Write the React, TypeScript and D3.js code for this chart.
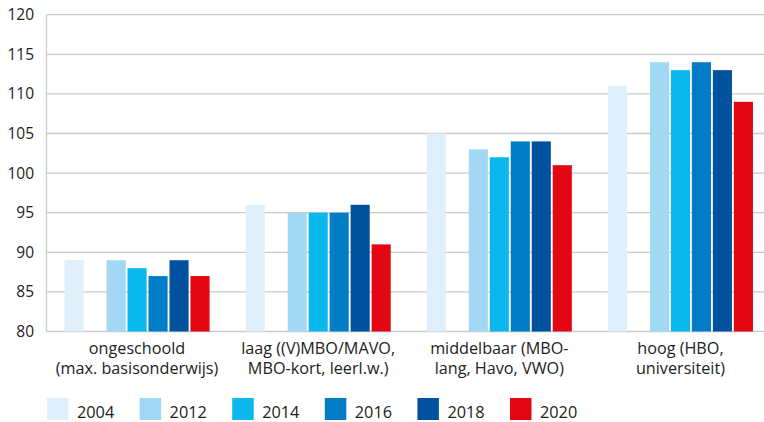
import React from "react";
import * as d3 from "d3";

const categories = [
  ["ongeschoold", "(max. basisonderwijs)"],
  ["laag ((V)MBO/MAVO,", "MBO-kort, leerl.w.)"],
  ["middelbaar (MBO-", "lang, Havo, VWO)"],
  ["hoog (HBO,", "universiteit)"],
];
const years = ["2004", "2012", "2014", "2016", "2018", "2020"];
const slots = ["2004", "gap", "2012", "2014", "2016", "2018", "2020"];
const colors = ["#dff0fc", "#a3d8f5", "#0bb8ee", "#007dc6", "#00519e", "#e30613"];
const v2004 = [89, 96, 105, 111];
const v2012 = [89, 95, 103, 114];
const v2014 = [88, 95, 102, 113];
const v2016 = [87, 95, 104, 114];
const v2018 = [89, 96, 104, 113];
const v2020 = [87, 91, 101, 109];
const series = [v2004, v2012, v2014, v2016, v2018, v2020];
const yTicks = [80, 85, 90, 95, 100, 105, 110, 115, 120];

export default function App() {
  const W = 764, H = 422;
  const left = 46.5, right = 771;
  const y = d3.scaleLinear().domain([80, 120]).range([331.5, 14.7]);
  const x0 = d3.scaleBand<number>().domain(d3.range(categories.length)).range([left, right]).padding(0);
  const gw = x0.bandwidth();
  const x1 = d3.scaleBand<string>().domain(slots).range([0, gw]).paddingInner(0.09).paddingOuter(0.86);
  const font = "'Open Sans', sans-serif";
  return (
    <svg width={W} height={H} style={{ position: "absolute", left: 0, top: 0 }} fontFamily={font}>
      <rect width={W} height={H} fill="#fff" />
      {yTicks.map((t) => (
        <g key={t}>
          <line x1={left} x2={W} y1={y(t)} y2={y(t)} stroke="#cbcbcb" strokeWidth={1.3} />
          <text x={34} y={y(t)} dy="0.35em" textAnchor="end" fontSize={15.5} fill="#222">{t}</text>
        </g>
      ))}
      <line x1={left} x2={left} y1={y(120)} y2={y(80)} stroke="#cbcbcb" strokeWidth={1.3} />
      {categories.map((c, i) => (
        <g key={i} transform={`translate(${x0(i)},0)`}>
          {years.map((yr, j) => {
            const v = series[j][i];
            return (
              <rect key={yr} x={x1(yr)} y={y(v)} width={x1.bandwidth()} height={y(80) - y(v)} fill={colors[j]} />
            );
          })}
          {c.map((line, k) => (
            <text key={k} x={gw / 2} y={354 + k * 20.2} textAnchor="middle" fontSize={16.2} fill="#222">{line}</text>
          ))}
        </g>
      ))}
      {years.map((yr, j) => {
        const lx = 47 + j * 92.6;
        return (
          <g key={yr}>
            <rect x={lx} y={398} width={21.5} height={22} fill={colors[j]} />
            <text x={lx + 30} y={418} fontSize={16.3} fill="#222">{yr}</text>
          </g>
        );
      })}
    </svg>
  );
}
